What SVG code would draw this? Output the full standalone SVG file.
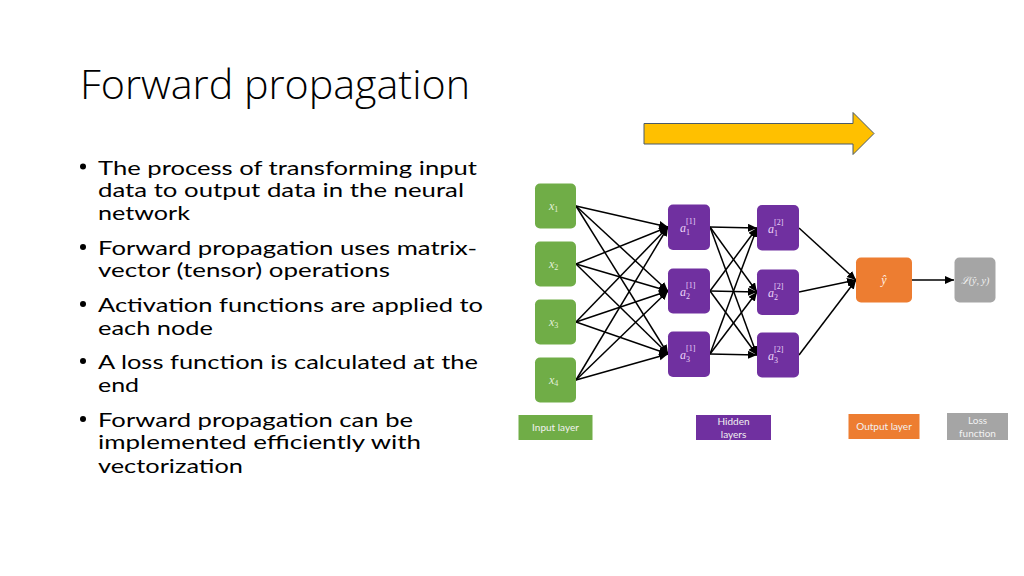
<svg xmlns="http://www.w3.org/2000/svg" width="1024" height="576" viewBox="0 0 1024 576">
<defs>
<style>
.title{font-family:"Open Sans","Liberation Sans",Arial,sans-serif;font-weight:300;font-size:40px;fill:#000}
.bt{font-family:Lato,"Liberation Sans",Arial,sans-serif;font-size:20px;fill:#000}
.lbl{font-family:Lato,"Liberation Sans",Arial,sans-serif;font-size:10px;fill:#F2F2F2;text-anchor:middle}
.mg{font-family:"Liberation Serif","DejaVu Serif",serif;font-style:italic;font-size:12px;fill:#E2F0D9}
.mp{font-family:"Liberation Serif","DejaVu Serif",serif;font-style:italic;font-size:12px;fill:#EBD3F8}
.mw{font-family:"Liberation Serif","DejaVu Serif",serif;font-style:italic;font-size:12px;fill:#FFF1E6}
.sm{font-size:8px;font-style:normal}
.conn line{stroke:#000;stroke-width:1.5;marker-end:url(#ah)}
.g{fill:#70AD47}
.p{fill:#7030A0}
.o{fill:#ED7D31}
.gr{fill:#A5A5A5}
</style>
<marker id="ah" markerUnits="userSpaceOnUse" markerWidth="10" markerHeight="10" refX="9" refY="4" orient="auto">
<path d="M0,0 L9,4 L0,8 Z" fill="#000"/>
</marker>
</defs>
<rect width="1024" height="576" fill="#fff"/>

<text class="title" x="80" y="99" textLength="390" lengthAdjust="spacingAndGlyphs">Forward propagation</text>

<g id="bullets">
<circle cx="83" cy="166.5" r="3"/>
<circle cx="83" cy="247" r="3"/>
<circle cx="83" cy="304" r="3"/>
<circle cx="83" cy="361" r="3"/>
<circle cx="83" cy="419" r="3"/>
<text class="bt" x="98" y="175" textLength="379" lengthAdjust="spacingAndGlyphs">The process of transforming input</text>
<text class="bt" x="98" y="197" textLength="366" lengthAdjust="spacingAndGlyphs">data to output data in the neural</text>
<text class="bt" x="98" y="220" textLength="92" lengthAdjust="spacingAndGlyphs">network</text>
<text class="bt" x="98" y="255" textLength="379" lengthAdjust="spacingAndGlyphs">Forward propagation uses matrix-</text>
<text class="bt" x="98" y="277" textLength="292" lengthAdjust="spacingAndGlyphs">vector (tensor) operations</text>
<text class="bt" x="98" y="312" textLength="385" lengthAdjust="spacingAndGlyphs">Activation functions are applied to</text>
<text class="bt" x="98" y="335" textLength="115" lengthAdjust="spacingAndGlyphs">each node</text>
<text class="bt" x="98" y="369" textLength="380" lengthAdjust="spacingAndGlyphs">A loss function is calculated at the</text>
<text class="bt" x="98" y="392" textLength="41" lengthAdjust="spacingAndGlyphs">end</text>
<text class="bt" x="98" y="427" textLength="315" lengthAdjust="spacingAndGlyphs">Forward propagation can be</text>
<text class="bt" x="98" y="449" textLength="323" lengthAdjust="spacingAndGlyphs">implemented efficiently with</text>
<text class="bt" x="98" y="473" textLength="145" lengthAdjust="spacingAndGlyphs">vectorization</text>
</g>

<g id="big-arrow">
<path d="M644,123.5 L853,123.5 L853,112.5 L874,133.5 L853,154.5 L853,144 L644,144 Z" fill="#FFC000" stroke="#4A5A6A" stroke-width="1"/>
</g>

<g class="conn" id="connectors">
<line x1="576" y1="206" x2="668" y2="227"/>
<line x1="576" y1="206" x2="668" y2="291"/>
<line x1="576" y1="206" x2="668" y2="354"/>
<line x1="576" y1="264" x2="668" y2="227"/>
<line x1="576" y1="264" x2="668" y2="291"/>
<line x1="576" y1="264" x2="668" y2="354"/>
<line x1="576" y1="322" x2="668" y2="227"/>
<line x1="576" y1="322" x2="668" y2="291"/>
<line x1="576" y1="322" x2="668" y2="354"/>
<line x1="576" y1="380" x2="668" y2="227"/>
<line x1="576" y1="380" x2="668" y2="291"/>
<line x1="576" y1="380" x2="668" y2="354"/>
<line x1="710" y1="227" x2="757" y2="228"/>
<line x1="710" y1="227" x2="757" y2="292"/>
<line x1="710" y1="227" x2="757" y2="355"/>
<line x1="710" y1="291" x2="757" y2="228"/>
<line x1="710" y1="291" x2="757" y2="292"/>
<line x1="710" y1="291" x2="757" y2="355"/>
<line x1="710" y1="354" x2="757" y2="228"/>
<line x1="710" y1="354" x2="757" y2="292"/>
<line x1="710" y1="354" x2="757" y2="355"/>
<line x1="799" y1="228" x2="856" y2="280"/>
<line x1="799" y1="292" x2="856" y2="280"/>
<line x1="799" y1="355" x2="856" y2="280"/>
<line x1="912" y1="280" x2="954" y2="280"/>
</g>

<g id="x1"><rect class="g" x="535" y="183.5" width="41" height="45" rx="5"/><text class="mg" x="549" y="210">x<tspan class="sm" dy="2">1</tspan></text></g>
<g id="x2"><rect class="g" x="535" y="241.5" width="41" height="45" rx="5"/><text class="mg" x="549" y="268">x<tspan class="sm" dy="2">2</tspan></text></g>
<g id="x3"><rect class="g" x="535" y="299.5" width="41" height="45" rx="5"/><text class="mg" x="549" y="326">x<tspan class="sm" dy="2">3</tspan></text></g>
<g id="x4"><rect class="g" x="535" y="357.5" width="41" height="45" rx="5"/><text class="mg" x="549" y="384">x<tspan class="sm" dy="2">4</tspan></text></g>

<g id="h1a1"><rect class="p" x="668" y="204.5" width="42" height="45.5" rx="5"/><text class="mp" x="680" y="232">a</text><text class="mp sm" x="686" y="224">[1]</text><text class="mp sm" x="686" y="235">1</text></g>
<g id="h1a2"><rect class="p" x="668" y="268.5" width="42" height="45" rx="5"/><text class="mp" x="680" y="296">a</text><text class="mp sm" x="686" y="288">[1]</text><text class="mp sm" x="686" y="299">2</text></g>
<g id="h1a3"><rect class="p" x="668" y="331.5" width="42" height="45.5" rx="5"/><text class="mp" x="680" y="359">a</text><text class="mp sm" x="686" y="351">[1]</text><text class="mp sm" x="686" y="362">3</text></g>

<g id="h2a1"><rect class="p" x="757" y="205" width="42" height="45.5" rx="5"/><text class="mp" x="768" y="233">a</text><text class="mp sm" x="774" y="225">[2]</text><text class="mp sm" x="774" y="236">1</text></g>
<g id="h2a2"><rect class="p" x="757" y="269.5" width="42" height="45.5" rx="5"/><text class="mp" x="768" y="297">a</text><text class="mp sm" x="774" y="289">[2]</text><text class="mp sm" x="774" y="300">2</text></g>
<g id="h2a3"><rect class="p" x="757" y="332.5" width="42" height="45" rx="5"/><text class="mp" x="768" y="360">a</text><text class="mp sm" x="774" y="352">[2]</text><text class="mp sm" x="774" y="363">3</text></g>

<g id="output"><rect class="o" x="856" y="257.5" width="56" height="45" rx="5"/><text class="mw" x="884" y="284" text-anchor="middle">ŷ</text></g>
<g id="loss"><rect class="gr" x="954.5" y="257.5" width="41" height="45" rx="5"/><text class="mw" x="975" y="284" text-anchor="middle" style="fill:#F2F2F2;font-size:10px">ℒ(ŷ, y)</text></g>

<g id="leg-input"><rect class="g" x="518.5" y="415" width="74" height="25"/><text class="lbl" x="555.5" y="431">Input layer</text></g>
<g id="leg-hidden"><rect class="p" x="696" y="415" width="75" height="25"/><text class="lbl" x="733.5" y="425">Hidden</text><text class="lbl" x="733.5" y="438">layers</text></g>
<g id="leg-output"><rect class="o" x="848.5" y="414" width="71" height="25"/><text class="lbl" x="884" y="430">Output layer</text></g>
<g id="leg-loss"><rect class="gr" x="947" y="413" width="61" height="27"/><text class="lbl" x="977.5" y="424">Loss</text><text class="lbl" x="977.5" y="437">function</text></g>
</svg>
